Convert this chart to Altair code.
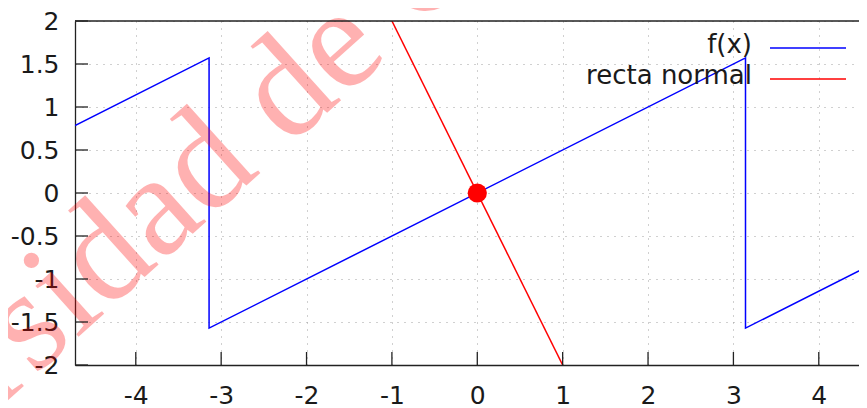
import altair as alt
import pandas as pd

# ---- data ----
f_x = [-4.712, -3.1416, -3.1416, 3.1416, 3.1416, 4.712]
f_y = [0.785, 1.571, -1.571, 1.571, -1.571, -0.785]
n_x = [-1.0, 1.0]
n_y = [2.0, -2.0]
pt_x = [0.0]
pt_y = [0.0]
x_ticks = [-4, -3, -2, -1, 0, 1, 2, 3, 4]
y_ticks = [-2, -1.5, -1, -0.5, 0, 0.5, 1, 1.5, 2]
legend_labels = ["f(x)", "recta normal"]
legend_colors = ["#0000ff", "#ff0000"]
watermark = ["Universidad de Granada"]

W, H = 784, 344
FONT = "DejaVu Sans"

xs = alt.Scale(domain=[-4.712, 4.471], nice=False, zero=False)
ys = alt.Scale(domain=[-2, 2], nice=False, zero=False)

x_axis = alt.Axis(values=x_ticks, ticks=False, domain=True, domainColor="#222",
                  domainWidth=1.3, grid=True, gridColor="#a0a0a0", gridDash=[1, 6],
                  gridWidth=1, labelFont=FONT, labelFontSize=25, labelColor="#1a1a1a",
                  labelPadding=38, labelBaseline="alphabetic", labelFlush=False,
                  labelOverlap=False, labelExpr="'' + datum.value", title=None)
y_axis = alt.Axis(values=y_ticks, ticks=False, domain=True, domainColor="#222",
                  domainWidth=1.3, grid=True, gridColor="#a0a0a0", gridDash=[1, 6],
                  gridWidth=1, labelFont=FONT, labelFontSize=25, labelColor="#1a1a1a",
                  labelPadding=16, labelFlush=False, labelOverlap=False,
                  labelExpr="'' + datum.value", title=None)

X = lambda f: alt.X(f, scale=xs, axis=x_axis)
Y = lambda f: alt.Y(f, scale=ys, axis=y_axis)

f_df = pd.DataFrame({"x": f_x, "y": f_y, "i": list(range(len(f_x)))})
n_df = pd.DataFrame({"x": n_x, "y": n_y, "i": list(range(len(n_x)))})
p_df = pd.DataFrame({"x": pt_x, "y": pt_y})
xt_df = pd.DataFrame({"v": x_ticks})
yt_df = pd.DataFrame({"v": y_ticks})
wm_df = pd.DataFrame({"t": watermark})

f_line = alt.Chart(f_df).mark_line(color="#0000ff", strokeWidth=1.5, clip=True).encode(
    x=X("x:Q"), y=Y("y:Q"), order="i:Q")

watermark_layer = alt.Chart(wm_df).mark_text(
    font="Liberation Serif", fontSize=145, angle=318, align="left",
    baseline="alphabetic", color="#ff0000", opacity=0.3
).encode(x=alt.value(-340), y=alt.value(625), text="t:N")

n_line = alt.Chart(n_df).mark_line(color="#ff0000", strokeWidth=1.5, clip=True).encode(
    x=X("x:Q"), y=Y("y:Q"), order="i:Q")
point = alt.Chart(p_df).mark_point(filled=True, shape="circle", size=370,
                                   color="#ff0000", opacity=1).encode(
    x=X("x:Q"), y=Y("y:Q"))

xtick_layer = alt.Chart(xt_df).mark_rule(color="#222", strokeWidth=1.3).encode(
    x=X("v:Q"), y=alt.value(H), y2=alt.value(H - 13))
ytick_layer = alt.Chart(yt_df).mark_rule(color="#222", strokeWidth=1.3).encode(
    y=Y("v:Q"), x=alt.value(0), x2=alt.value(13))
top_border = alt.Chart(xt_df.head(1)).mark_rule(color="#222", strokeWidth=1.3).encode(
    x=alt.value(0), x2=alt.value(W), y=alt.value(0))

legend_layers = []
for i, (lab, col) in enumerate(zip(legend_labels, legend_colors)):
    ldf = pd.DataFrame({"t": [lab]})
    legend_layers.append(
        alt.Chart(ldf).mark_text(font=FONT, fontSize=26, align="right",
                                 baseline="alphabetic", color="#1a1a1a").encode(
            x=alt.value(677), y=alt.value(32 + 31 * i), text="t:N"))
    legend_layers.append(
        alt.Chart(ldf).mark_rule(color=col, strokeWidth=1.5).encode(
            x=alt.value(695), x2=alt.value(771), y=alt.value(27 + 31 * i)))

chart = alt.layer(
    f_line, watermark_layer, n_line, point, xtick_layer, ytick_layer, top_border,
    *legend_layers
).properties(
    width=W, height=H,
    autosize=alt.AutoSizeParams(type="none"),
    padding={"left": 67, "top": 13, "right": 0, "bottom": 43},
    background="white",
).configure_view(stroke=None)

chart.save("out.html", embed_options={"renderer": "svg", "actions": False})
